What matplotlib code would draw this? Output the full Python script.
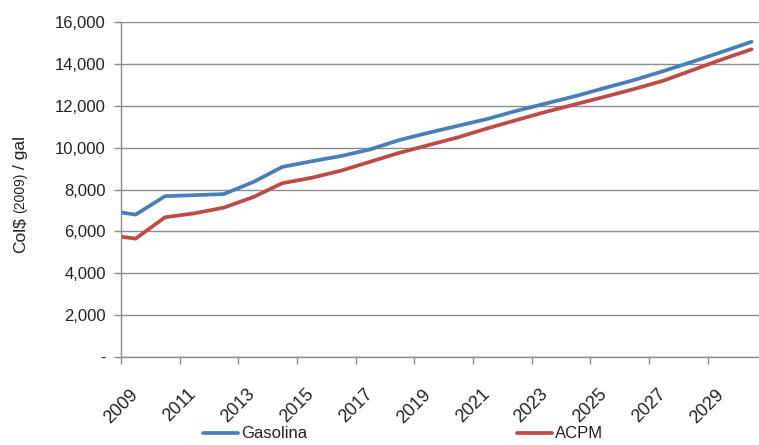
import matplotlib
matplotlib.use("Agg")
import matplotlib.pyplot as plt
from matplotlib.ticker import FuncFormatter, FixedLocator

plt.rcParams['font.family'] = ['Liberation Sans', 'DejaVu Sans']

years = [2009, 2009.5] + [2010.5 + i for i in range(21)]
gasolina = [6900, 6800, 7680, 7730, 7780, 8350, 9080, 9350, 9600, 9920, 10370,
            10720, 11050, 11380, 11770, 12120, 12470, 12860, 13240, 13670,
            14120, 14590, 15070]
acpm = [5740, 5650, 6670, 6860, 7130, 7630, 8300, 8560, 8900, 9330, 9760,
        10130, 10500, 10930, 11330, 11720, 12080, 12440, 12810, 13210,
        13720, 14230, 14710]
xtick_years = list(range(2009, 2030, 2))
yticks = list(range(0, 16001, 2000))

W, H = 759, 445
fig = plt.figure(figsize=(W / 100, H / 100), dpi=100)
ax = fig.add_axes([121 / W, (H - 356.7) / H, (W - 121) / W, (356.7 - 22.3) / H])

blue = '#4A7EBB'
red = '#BE4B48'
grid_c = '#8C8C8C'
txt_c = '#222222'

l1, = ax.plot(years, gasolina, color=blue, lw=2.7, solid_capstyle='round', label='Gasolina')
l2, = ax.plot(years, acpm, color=red, lw=2.7, solid_capstyle='round', label='ACPM')

ax.set_xlim(2009, 2009 + (W - 121) / 29.33)
ax.set_ylim(0, 16000)
ax.yaxis.set_major_locator(FixedLocator(yticks))
ax.xaxis.set_major_locator(FixedLocator(xtick_years))
ax.yaxis.set_major_formatter(FuncFormatter(lambda v, p: '-' if v == 0 else f'{int(v):,}'))
ax.set_xticklabels([str(y) for y in xtick_years], rotation=45, ha='center', va='top',
                   fontsize=13)

ax.grid(axis='y', color=grid_c, lw=1.0)
ax.set_axisbelow(True)
for s in ['top', 'right']:
    ax.spines[s].set_visible(False)
for s in ['left', 'bottom']:
    ax.spines[s].set_color(grid_c)
    ax.spines[s].set_linewidth(1.0)
ax.tick_params(axis='both', direction='out', length=5, width=1.0, color=grid_c,
               labelcolor=txt_c)
ax.tick_params(axis='y', pad=6, labelsize=12)
ax.tick_params(axis='x', pad=16)

# y label with smaller "(2009)", chained bottom to top
fig.canvas.draw()
renderer = fig.canvas.get_renderer()
xl = 20 / W
ypix = H - 253
gap = 4
for s, fs in [('Col$', 12.5), ('(2009)', 10), ('/ gal', 12.5)]:
    t = fig.text(xl, ypix / H, s, rotation=90, ha='center', va='bottom', fontsize=fs, color=txt_c)
    bb = t.get_window_extent(renderer)
    ypix = bb.y1 + gap

fig.legend(handles=[l1, l2], loc='center', bbox_to_anchor=(403 / W, (H - 434) / H),
           ncol=2, frameon=False, fontsize=12, handlelength=2.1, handletextpad=0.2,
           columnspacing=12.6, borderpad=0, labelcolor=txt_c)

fig.savefig('out.png', dpi=100)
